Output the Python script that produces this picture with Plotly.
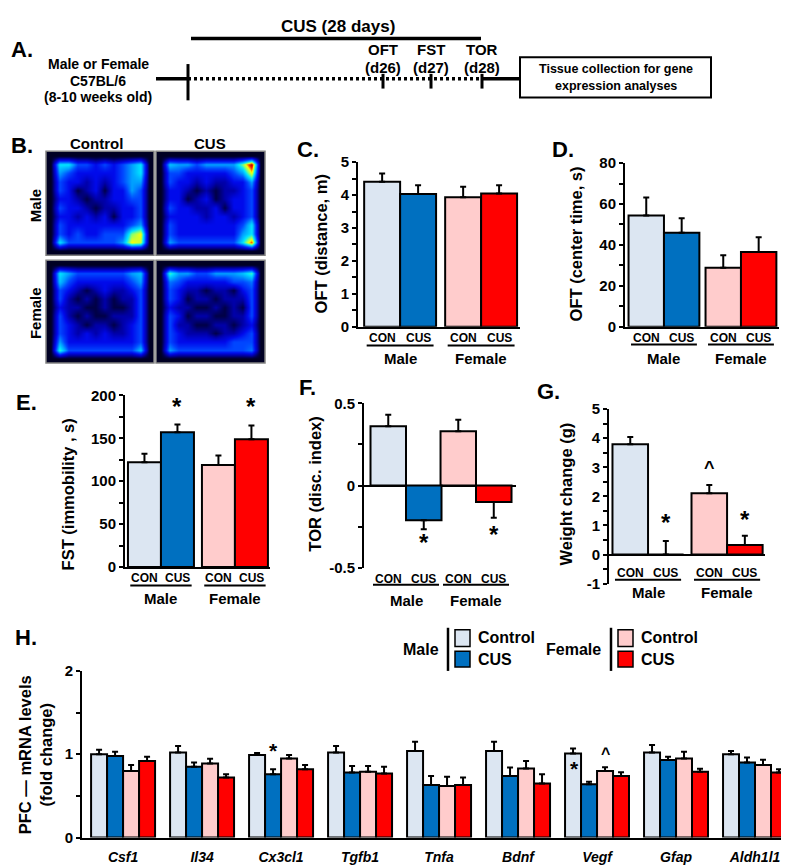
import plotly.graph_objects as go

W, H = 789, 866


def fx(p):
    return p / W


def fy(p):
    return 1 - p / H


FONT = "Liberation Sans, Arial, Helvetica, sans-serif"
C_MCON, C_MCUS, C_FCON, C_FCUS = "#DCE6F2", "#0070C0", "#FFCCCC", "#FF0000"

# ---------------- data ----------------
sexes = ["Male", "Female"]
cond_labels = ["CON", "CUS"]

oft_dist_con = [4.40, 3.93]
oft_dist_con_sem = [0.25, 0.32]
oft_dist_cus = [4.03, 4.05]
oft_dist_cus_sem = [0.27, 0.25]

oft_center_con = [54.4, 28.8]
oft_center_con_sem = [8.8, 6.2]
oft_center_cus = [45.9, 36.5]
oft_center_cus_sem = [7.2, 7.3]

fst_con = [122, 119]
fst_con_sem = [10, 11]
fst_cus = [157, 149]
fst_cus_sem = [9, 16]

tor_con = [0.36, 0.33]
tor_con_sem = [0.07, 0.07]
tor_cus = [-0.21, -0.10]
tor_cus_sem = [0.055, 0.095]

weight_con = [3.79, 2.11]
weight_con_sem = [0.25, 0.28]
weight_cus = [0.0, 0.33]
weight_cus_sem = [0.47, 0.32]

genes = ["Csf1", "Il34", "Cx3cl1", "Tgfb1", "Tnfa", "Bdnf", "Vegf", "Gfap", "Aldh1l1"]
male_control = [1.00, 1.02, 0.99, 1.02, 1.04, 1.04, 1.01, 1.02, 1.00]
male_control_sem = [0.055, 0.08, 0.025, 0.08, 0.11, 0.11, 0.06, 0.09, 0.04]
male_cus = [0.98, 0.85, 0.76, 0.78, 0.63, 0.74, 0.64, 0.93, 0.90]
male_cus_sem = [0.05, 0.05, 0.06, 0.08, 0.11, 0.10, 0.03, 0.04, 0.06]
female_control = [0.80, 0.89, 0.95, 0.79, 0.62, 0.83, 0.80, 0.95, 0.87]
female_control_sem = [0.07, 0.055, 0.04, 0.07, 0.11, 0.09, 0.045, 0.08, 0.065]
female_cus = [0.92, 0.72, 0.82, 0.77, 0.63, 0.65, 0.74, 0.79, 0.78]
female_cus_sem = [0.05, 0.04, 0.05, 0.08, 0.09, 0.11, 0.045, 0.035, 0.04]

# occupancy heat maps (rows top -> bottom), relative scale 0-10
heat_male_control = [
    [0.5, 0.5, 0.5, 0.5, 0.5, 0.5, 0.5, 0.5, 0.5, 0.5, 0.5, 0.5],
    [0.5, 6, 6, 4, 4, 3, 4, 3, 4, 5, 6, 0.5],
    [0.5, 5, 4, 3, 3, 3, 3, 3, 4, 5, 6, 0.5],
    [0.5, 4, 3, 3, 2, 3, 2, 3, 4, 5, 5, 0.5],
    [0.5, 4, 3, 1, 2, 3, 1, 3, 3, 5, 4, 0.5],
    [0.5, 3, 3, 2, 1, 2, 2, 3, 3, 4, 4, 0.5],
    [0.5, 4, 3, 3, 2, 1, 2, 2, 3, 3, 4, 0.5],
    [0.5, 3, 3, 2, 3, 2, 3, 1, 3, 3, 4, 0.5],
    [0.5, 4, 3, 3, 3, 3, 3, 3, 3, 4, 5, 0.5],
    [0.5, 4, 3, 4, 3, 3, 4, 4, 4, 7, 8, 0.5],
    [0.5, 6, 4, 4, 4, 4, 4, 4, 5, 8, 7.5, 0.5],
    [0.5, 0.5, 0.5, 0.5, 0.5, 0.5, 0.5, 0.5, 0.5, 0.5, 0.5, 0.5],
]
heat_male_cus = [
    [0.5, 0.5, 0.5, 0.5, 0.5, 0.5, 0.5, 0.5, 0.5, 0.5, 0.5, 0.5],
    [0.5, 5.5, 5, 5, 4, 5, 5, 5, 5, 7, 10, 0.5],
    [0.5, 4, 4, 3, 3, 3, 3, 3, 4, 5, 8, 0.5],
    [0.5, 4, 3, 3, 2, 3, 2, 2, 3, 3, 5, 0.5],
    [0.5, 3, 3, 2, 1, 2, 1, 2, 2, 3, 4, 0.5],
    [0.5, 3, 3, 1, 2, 3, 1, 2, 3, 3, 4, 0.5],
    [0.5, 4, 3, 3, 2, 2, 3, 1, 3, 3, 4, 0.5],
    [0.5, 3, 3, 3, 3, 2, 3, 3, 2, 3, 4, 0.5],
    [0.5, 4, 3, 3, 3, 3, 3, 3, 3, 4, 6, 0.5],
    [0.5, 4, 3, 3, 3, 3, 3, 3, 3, 5, 6, 0.5],
    [0.5, 5, 4, 4, 4, 4, 4, 4, 4, 6, 9, 0.5],
    [0.5, 0.5, 0.5, 0.5, 0.5, 0.5, 0.5, 0.5, 0.5, 0.5, 0.5, 0.5],
]
heat_female_control = [
    [0.5, 0.5, 0.5, 0.5, 0.5, 0.5, 0.5, 0.5, 0.5, 0.5, 0.5, 0.5],
    [0.5, 6, 5, 4, 4, 4, 4, 4, 4, 5, 5.5, 0.5],
    [0.5, 5.5, 4, 3, 3, 3, 3, 3, 3, 4, 5, 0.5],
    [0.5, 4, 3, 2, 1, 2, 3, 2, 2, 3, 4, 0.5],
    [0.5, 4, 2, 1, 2, 1, 2, 1, 2, 2, 4, 0.5],
    [0.5, 3, 2, 2, 1, 1, 2, 1, 1, 2, 4, 0.5],
    [0.5, 4, 2, 1, 2, 1, 1, 2, 2, 2, 4, 0.5],
    [0.5, 4, 3, 2, 1, 2, 2, 1, 2, 3, 4, 0.5],
    [0.5, 4, 3, 2, 3, 2, 3, 2, 2, 3, 4, 0.5],
    [0.5, 5, 3, 3, 3, 3, 3, 3, 3, 3, 4, 0.5],
    [0.5, 6.5, 4, 4, 4, 4, 4, 4, 4, 4, 5.5, 0.5],
    [0.5, 0.5, 0.5, 0.5, 0.5, 0.5, 0.5, 0.5, 0.5, 0.5, 0.5, 0.5],
]
heat_female_cus = [
    [0.5, 0.5, 0.5, 0.5, 0.5, 0.5, 0.5, 0.5, 0.5, 0.5, 0.5, 0.5],
    [0.5, 6.5, 5, 5, 4, 4, 5, 5, 5, 5.5, 6.5, 0.5],
    [0.5, 4.5, 4, 3, 3, 3, 3, 3, 4, 4, 4.5, 0.5],
    [0.5, 4, 3, 2, 2, 1, 2, 2, 1, 3, 4, 0.5],
    [0.5, 4, 3, 1, 2, 2, 1, 2, 2, 2, 4, 0.5],
    [0.5, 3, 2, 2, 1, 1, 2, 1, 2, 1, 4, 0.5],
    [0.5, 4, 3, 1, 2, 2, 1, 1, 2, 2, 4, 0.5],
    [0.5, 4, 2, 2, 1, 1, 2, 2, 1, 2, 3, 0.5],
    [0.5, 4, 3, 2, 2, 2, 1, 2, 2, 3, 4, 0.5],
    [0.5, 4, 3, 3, 3, 3, 3, 3, 4, 4, 4, 0.5],
    [0.5, 5, 4, 4, 4, 4, 4, 4, 4, 4, 4.5, 0.5],
    [0.5, 0.5, 0.5, 0.5, 0.5, 0.5, 0.5, 0.5, 0.5, 0.5, 0.5, 0.5],
]

HEAT_SCALE = [
    [0.0, "rgb(0,0,0)"], [0.1, "rgb(0,0,70)"], [0.2, "rgb(0,0,170)"],
    [0.3, "rgb(0,10,235)"], [0.4, "rgb(0,70,255)"], [0.5, "rgb(0,160,255)"],
    [0.6, "rgb(0,230,255)"], [0.7, "rgb(130,255,120)"], [0.8, "rgb(255,255,0)"],
    [0.9, "rgb(255,40,0)"], [1.0, "rgb(170,0,0)"],
]

fig = go.Figure()
annotations = []
shapes = []
layout_axes = {}


def font(size, italic=False):
    return dict(family=FONT, size=size, color="black", weight="bold",
                style="italic" if italic else "normal")


def txt(x, y, s, size, xref="paper", yref="paper", xanchor="center",
        yanchor="middle", angle=0, italic=False):
    annotations.append(dict(x=x, y=y, text=s, showarrow=False, font=font(size, italic),
                            xref=xref, yref=yref, xanchor=xanchor, yanchor=yanchor,
                            textangle=angle))


def pline(x0, y0, x1, y1, width=2, dash="solid"):
    shapes.append(dict(type="line", xref="paper", yref="paper", x0=fx(x0), y0=fy(y0),
                       x1=fx(x1), y1=fy(y1), line=dict(color="black", width=width, dash=dash)))


def axname(n):
    return ("x", "y") if n == 1 else (f"x{n}", f"y{n}")


def yaxis_dict(n, dom, yr, tickvals, minor, zeroline):
    xa, ya = axname(n)
    return dict(domain=[fy(dom[1]), fy(dom[0])], range=yr, anchor=xa, showline=True,
                linecolor="black", linewidth=2, ticks="outside", ticklen=4, tickwidth=2,
                tickcolor="black", tickmode="array", tickvals=tickvals,
                ticktext=[("%g" % v) for v in tickvals], tickfont=font(15),
                showgrid=False, zeroline=zeroline, zerolinecolor="black", zerolinewidth=2,
                minor=dict(tickmode="array", tickvals=minor, ticks="outside", ticklen=4,
                           tickwidth=2, tickcolor="black", showgrid=False))


def add_bar(n, xcats, vals, sems, colors, w, off):
    xa, ya = axname(n)
    up = [s if v >= 0 else 0 for v, s in zip(vals, sems)]
    dn = [0 if v >= 0 else s for v, s in zip(vals, sems)]
    fig.add_trace(go.Bar(
        x=xcats, y=vals, xaxis=xa, yaxis=ya, width=w, offset=off,
        marker=dict(color=colors, line=dict(color="black", width=2)),
        error_y=dict(type="data", symmetric=False, array=up, arrayminus=dn,
                     color="black", thickness=2, width=3),
        showlegend=False, hoverinfo="skip"))


def pair_panel(n, letter, con, con_sem, cus, cus_sem, xdom, ydom, xr, yr, tickvals,
               minor, w, rows, title, title_pos, bottom_line, zeroline, letter_pos):
    xa, ya = axname(n)
    add_bar(n, sexes, con, con_sem, [C_MCON, C_FCON], w, -w)
    add_bar(n, sexes, cus, cus_sem, [C_MCUS, C_FCUS], w, 0)
    layout_axes["xaxis" if n == 1 else f"xaxis{n}"] = dict(
        domain=[fx(xdom[0]), fx(xdom[1])], range=xr, anchor=ya, type="category",
        showticklabels=False, ticks="", showgrid=False, zeroline=False,
        showline=bottom_line, linecolor="black", linewidth=2)
    layout_axes["yaxis" if n == 1 else f"yaxis{n}"] = yaxis_dict(n, ydom, yr, tickvals, minor, zeroline)
    y_con, y_line, y_grp = rows
    for i, sex in enumerate(sexes):
        txt(i - w / 2, fy(y_con), cond_labels[0], 12, xref=xa)
        txt(i + w / 2, fy(y_con), cond_labels[1], 12, xref=xa)
        shapes.append(dict(type="line", xref=xa, yref="paper", x0=i - 0.93 * w, x1=i + 0.93 * w,
                           y0=fy(y_line), y1=fy(y_line), line=dict(color="black", width=2)))
        txt(i, fy(y_grp), sex, 15, xref=xa)
    txt(fx(title_pos[0]), fy(title_pos[1]), title, 16.5, angle=-90)
    txt(fx(letter_pos[0]), fy(letter_pos[1]), letter, 22)


# ---------------- Panel A ----------------
txt(fx(14), fy(33), "A.", 22)
txt(fx(330), fy(10), "CUS (28 days)", 17)
pline(183, 22, 473, 22, width=3.5)
txt(fx(90), fy(48), "Male or Female", 14)
txt(fx(90), fy(65), "C57BL/6", 14)
txt(fx(90), fy(82), "(8-10 weeks old)", 14)
pline(148, 63, 180, 63, width=3.5)
pline(180, 63, 474, 63, width=3.5, dash="3px,3px")
pline(474, 63, 512, 63, width=3.5)
pline(180, 48, 180, 85, width=3)
for xp, t1, t2 in [(375, "OFT", "(d26)"), (423, "FST", "(d27)"), (474, "TOR", "(d28)")]:
    pline(xp, 58, xp, 73, width=3)
    txt(fx(xp), fy(33), t1, 15)
    txt(fx(xp), fy(52), t2, 15)
shapes.append(dict(type="rect", xref="paper", yref="paper", x0=fx(512), x1=fx(703),
                   y0=fy(82), y1=fy(41), line=dict(color="black", width=2), fillcolor="white"))
txt(fx(608), fy(53), "Tissue collection for gene", 12.5)
txt(fx(608), fy(70), "expression analyses", 12.5)

# ---------------- Panel B ----------------
txt(fx(14), fy(131), "B.", 22)
txt(fx(88), fy(129), "Control", 15)
txt(fx(202), fy(129), "CUS", 15)
txt(fx(27), fy(193), "Male", 15, angle=-90)
txt(fx(27), fy(302), "Female", 15, angle=-90)
heat_panels = [
    (7, heat_male_control, (38, 146), (137, 243)),
    (8, heat_male_cus, (148, 257), (137, 243)),
    (9, heat_female_control, (38, 146), (248, 353)),
    (10, heat_female_cus, (148, 257), (248, 353)),
]
for n, z, xd, yd in heat_panels:
    xa, ya = axname(n)
    fig.add_trace(go.Heatmap(z=z, xaxis=xa, yaxis=ya, colorscale=HEAT_SCALE, zmin=0, zmax=10,
                             zsmooth="best", showscale=False, hoverinfo="skip"))
    layout_axes[f"xaxis{n}"] = dict(domain=[fx(xd[0]), fx(xd[1])], range=[-0.5, 11.5],
                                    anchor=ya, visible=False)
    layout_axes[f"yaxis{n}"] = dict(domain=[fy(yd[1]), fy(yd[0])], range=[11.5, -0.5],
                                    anchor=xa, visible=False)
    shapes.append(dict(type="rect", xref="paper", yref="paper", x0=fx(xd[0]), x1=fx(xd[1]),
                       y0=fy(yd[1]), y1=fy(yd[0]), line=dict(color="rgb(130,130,130)", width=1.5)))

# ---------------- Panels C-G ----------------
pair_panel(1, "C.", oft_dist_con, oft_dist_con_sem, oft_dist_cus, oft_dist_cus_sem,
           (350, 512), (148, 316), [-0.52, 1.48], [0, 5], [0, 1, 2, 3, 4, 5],
           [0.5, 1.5, 2.5, 3.5, 4.5], 0.444, (327, 335, 348), "OFT (distance, m)", (313, 232),
           True, False, (300, 135))
pair_panel(2, "D.", oft_center_con, oft_center_con_sem, oft_center_cus, oft_center_cus_sem,
           (617, 771), (149, 316), [-0.506, 1.494], [0, 80], [0, 20, 40, 60, 80],
           [10, 30, 50, 70], 0.46, (327, 334, 348), "OFT (center time, s)", (568, 232),
           True, False, (555, 135))
pair_panel(3, "E.", fst_con, fst_con_sem, fst_cus, fst_cus_sem,
           (117, 262), (386, 561), [-0.486, 1.474], [0, 200], [0, 50, 100, 150, 200],
           [25, 75, 125, 175], 0.446, (572, 580, 593), "FST (immobility , s)", (60, 487),
           True, False, (18, 393))
pair_panel(4, "F.", tor_con, tor_con_sem, tor_cus, tor_cus_sem,
           (356, 508), (394, 562), [-0.6, 1.571], [-0.5, 0.5], [-0.5, 0, 0.5],
           [-0.25, 0.25], 0.507, (573, 579, 595), "TOR (disc. index)", (307, 477),
           False, True, (299, 378))
pair_panel(5, "G.", weight_con, weight_con_sem, weight_cus, weight_cus_sem,
           (601, 757), (400, 578), [-0.494, 1.48], [-1, 5], [-1, 0, 1, 2, 3, 4, 5],
           [-0.5, 0.5, 1.5, 2.5, 3.5, 4.5], 0.45, (567, 574, 587), "Weight change (g)", (558, 487),
           False, True, (540, 382))

# significance marks (above / below error bars)
txt(0 + 0.446 / 2, fy(397), "*", 24, xref="x3")
txt(1 + 0.446 / 2, fy(397), "*", 24, xref="x3")
txt(0 + 0.507 / 2, fy(536), "*", 24, xref="x4")
txt(1 + 0.507 / 2, fy(528), "*", 24, xref="x4")
txt(0 + 0.45 / 2, fy(516), "*", 24, xref="x5")
txt(1 + 0.45 / 2, fy(513), "*", 24, xref="x5")
txt(1 - 0.45 / 2, fy(460), "^", 18, xref="x5")

# ---------------- Panel H ----------------
WH = 0.2025
h_series = [
    (male_control, male_control_sem, C_MCON, -2 * WH),
    (male_cus, male_cus_sem, C_MCUS, -WH),
    (female_control, female_control_sem, C_FCON, 0),
    (female_cus, female_cus_sem, C_FCUS, WH),
]
for vals, sems, col, off in h_series:
    add_bar(6, genes, vals, sems, col, WH, off)
layout_axes["xaxis6"] = dict(domain=[fx(74), fx(787)], range=[-0.52, 8.506], anchor="y6",
                             type="category", showticklabels=True, tickfont=font(14, italic=True),
                             ticks="", ticklabelstandoff=6, showgrid=False, zeroline=False,
                             showline=True, linecolor="black", linewidth=2)
layout_axes["yaxis6"] = yaxis_dict(6, (667, 837), [0, 2], [0, 1, 2], [0.5, 1.5], False)
txt(fx(27), fy(753), "PFC \u2014 mRNA levels<br>(fold change)", 16.5, angle=-90)
txt(fx(18), fy(633), "H.", 22)
txt(2 - WH / 2, fy(748), "*", 21, xref="x6")
txt(6 - 1.5 * WH + 0.02, fy(767), "*", 21, xref="x6")
txt(6 + WH / 2, fy(751), "^", 16, xref="x6")

# legend for H
txt(fx(413), fy(645), "Male", 16)
pline(440, 623, 440, 667, width=2.5)
txt(fx(565), fy(645), "Female", 16)
pline(603, 623, 603, 667, width=2.5)
for xb, c1, c2 in [(447, C_MCON, C_MCUS), (610, C_FCON, C_FCUS)]:
    shapes.append(dict(type="rect", xref="paper", yref="paper", x0=fx(xb), x1=fx(xb + 15),
                       y0=fy(642), y1=fy(625), fillcolor=c1, line=dict(color="black", width=1.5)))
    shapes.append(dict(type="rect", xref="paper", yref="paper", x0=fx(xb), x1=fx(xb + 15),
                       y0=fy(663), y1=fy(647), fillcolor=c2, line=dict(color="black", width=1.5)))
    txt(fx(xb + 21), fy(633), "Control", 16, xanchor="left")
    txt(fx(xb + 21), fy(655), "CUS", 16, xanchor="left")

fig.update_layout(
    width=W, height=H, autosize=False,
    margin=dict(l=0, r=0, t=0, b=0),
    paper_bgcolor="white", plot_bgcolor="rgba(0,0,0,0)",
    barmode="overlay", showlegend=False,
    font=dict(family=FONT, color="black"),
    annotations=annotations, shapes=shapes,
    **layout_axes,
)
fig.write_html("out.html")
